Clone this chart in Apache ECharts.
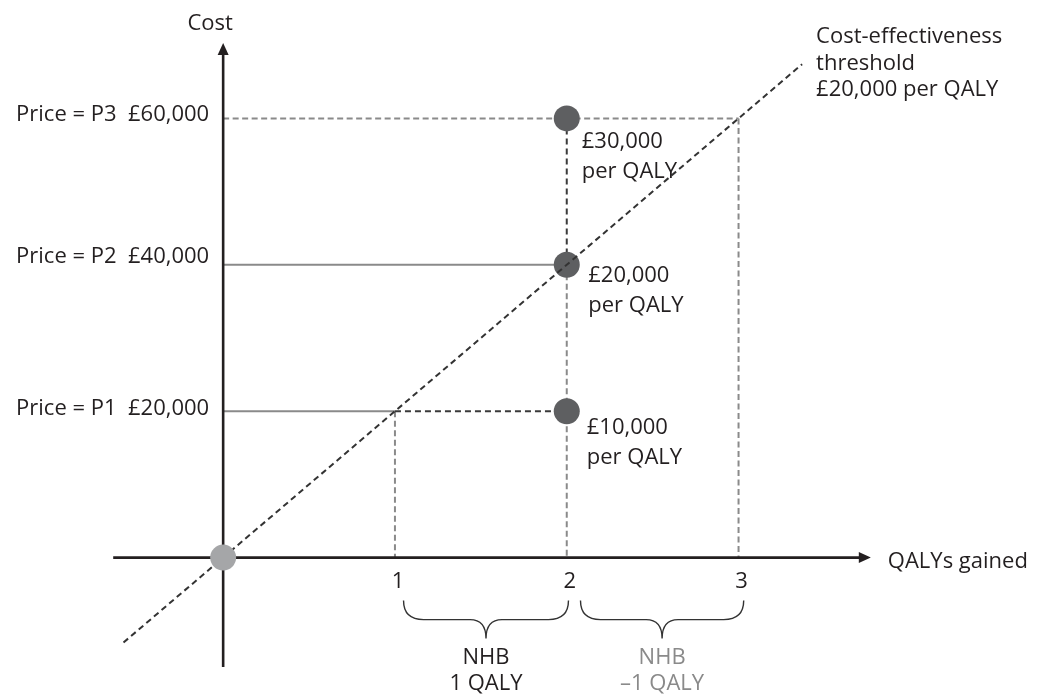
<!DOCTYPE html>
<html><head><meta charset="utf-8">
<script src="https://cdn.jsdelivr.net/npm/echarts@6/dist/echarts.min.js"></script>
<style>html,body{margin:0;padding:0;background:#fff}#chart{width:1038px;height:695px}</style>
</head><body><div id="chart"></div>
<script>
// ---------------- data ----------------
const qalyTicks = [1, 2, 3];
const qalyTickLabels = ['1', '2', '3'];
const prices = [20000, 40000, 60000];
const priceLabels = ['Price = P1  £20,000', 'Price = P2  £40,000', 'Price = P3  £60,000'];
const productQalys = 2;
const icerLabels = ['£10,000\nper QALY', '£20,000\nper QALY', '£30,000\nper QALY'];
const thresholdQalyAtPrice = [1, 2, 3];
const thresholdLabel = 'Cost-effectiveness\nthreshold\n£20,000 per QALY';
const thresholdEnds = [[-0.58, -11600], [3.37, 67400]];
const xAxisEnds = [[-0.64, 0], [3.77, 0]];
const yAxisEnds = [[0, -14950], [0, 70300]];
const axisNames = ['QALYs gained', 'Cost'];
const braceRanges = [[1.05, 2.01], [2.08, 3.03]];
const nhbLabels = ['NHB\n1 QALY', 'NHB\n\u20131 QALY'];

// ---------------- styles ----------------
const INK = '#231f20';
const GREY = '#8a8a8a';
const FONT = '"Open Sans", "Noto Sans", sans-serif';
const FS = 22;

// ---------------- derived geometry ----------------
const greySolid = [
  [0, prices[0], thresholdQalyAtPrice[0], prices[0]],
  [0, prices[1], productQalys, prices[1]]
];
const greyDashed = [
  [0, prices[2], thresholdQalyAtPrice[2], prices[2]],
  [thresholdQalyAtPrice[0], prices[0], thresholdQalyAtPrice[0], 0],
  [productQalys, prices[1], productQalys, 0],
  [thresholdQalyAtPrice[2], prices[2], thresholdQalyAtPrice[2], 0]
];
const darkDashed = [
  [thresholdQalyAtPrice[0], prices[0], productQalys, prices[0]],
  [productQalys, prices[2], productQalys, prices[1]]
];
const thresholdSeg = [[thresholdEnds[0][0], thresholdEnds[0][1], thresholdEnds[1][0], thresholdEnds[1][1]]];
const axesSeg = [
  [xAxisEnds[0][0], xAxisEnds[0][1], xAxisEnds[1][0], xAxisEnds[1][1]],
  [yAxisEnds[0][0], yAxisEnds[0][1], yAxisEnds[1][0], yAxisEnds[1][1]]
];

// text items (content from arrays above; offsets are layout)
const textItems = [];
const priceDy = [-2.5, -8, -3.5];
prices.forEach((p, i) => textItems.push({at: [0, p], text: priceLabels[i], dx: -14, dy: priceDy[i], align: 'right', va: 'middle'}));
const icerDx = [20, 21.5, 15], icerDy = [2, -3.5, 9];
prices.forEach((p, i) => textItems.push({at: [productQalys, p], text: icerLabels[i], dx: icerDx[i], dy: icerDy[i], align: 'left', va: 'top', lh: 29.5}));
textItems.push({at: thresholdEnds[1], text: thresholdLabel, dx: 14, dy: -0.5, align: 'left', va: 'middle', lh: 26.5});
textItems.push({at: yAxisEnds[1], text: axisNames[1], dx: -13, dy: -19, align: 'center', va: 'middle'});
textItems.push({at: xAxisEnds[1], text: axisNames[0], dx: 17, dy: 4.5, align: 'left', va: 'middle'});
qalyTicks.forEach((q, i) => textItems.push({at: [q, 0], text: qalyTickLabels[i], dx: 3, dy: 24, align: 'center', va: 'middle'}));
const nhbColors = [INK, GREY];
braceRanges.forEach((r, i) => textItems.push({at: [(r[0] + r[1]) / 2, 0], text: nhbLabels[i], dx: 0, dy: 86.5, align: 'center', va: 'top', lh: 26.6, color: nhbColors[i]}));

function segSeries(data, style, z) {
  return {
    type: 'custom', coordinateSystem: 'cartesian2d', silent: true, z: z,
    encode: {x: [0, 2], y: [1, 3]}, data: data,
    renderItem: function (params, api) {
      const a = api.coord([api.value(0), api.value(1)]);
      const b = api.coord([api.value(2), api.value(3)]);
      return {type: 'line', shape: {x1: a[0], y1: a[1], x2: b[0], y2: b[1]},
        style: Object.assign({fill: null}, style)};
    }
  };
}

const chart = echarts.init(document.getElementById('chart'), null, {renderer: 'canvas'});
chart.setOption({
  animation: false,
  backgroundColor: '#ffffff',
  grid: {left: 51.35, right: 41.75, top: 1.28, bottom: 20.28},
  xAxis: {type: 'value', min: -1, max: 4.5, show: false},
  yAxis: {type: 'value', min: -16000, max: 76000, show: false},
  series: [
    segSeries(greySolid, {stroke: GREY, lineWidth: 2}, 1),
    segSeries(greyDashed, {stroke: GREY, lineWidth: 2, lineDash: [6, 3.5]}, 1),
    segSeries(darkDashed, {stroke: '#3a3a3a', lineWidth: 2, lineDash: [6, 4]}, 2),
    {
      type: 'custom', coordinateSystem: 'cartesian2d', silent: true, z: 3,
      encode: {x: [0, 2], y: [1, 3]}, data: axesSeg,
      renderItem: function (params, api) {
        const a = api.coord([api.value(0), api.value(1)]);
        const b = api.coord([api.value(2), api.value(3)]);
        const dx = b[0] - a[0], dy = b[1] - a[1], len = Math.hypot(dx, dy);
        const ux = dx / len, uy = dy / len, L = 12, W = 11;
        const bx = b[0] - ux * L, by = b[1] - uy * L;
        return {type: 'group', children: [
          {type: 'line', shape: {x1: a[0], y1: a[1], x2: bx + ux, y2: by + uy}, style: {stroke: INK, lineWidth: 2.6}},
          {type: 'polygon', shape: {points: [[b[0], b[1]], [bx - uy * W / 2, by + ux * W / 2], [bx + uy * W / 2, by - ux * W / 2]]}, style: {fill: INK}}
        ]};
      }
    },
    {
      type: 'scatter', silent: true, z: 4, symbolSize: 26,
      itemStyle: {color: '#5e5f61', opacity: 1},
      data: prices.map(p => [productQalys, p])
    },
    segSeries(thresholdSeg, {stroke: '#333333', lineWidth: 2, lineDash: [6, 4]}, 5),
    {
      type: 'scatter', silent: true, z: 6, symbolSize: 26,
      itemStyle: {color: '#a5a6a8', opacity: 1},
      data: [[0, 0]]
    },
    {
      type: 'custom', coordinateSystem: 'cartesian2d', silent: true, z: 7,
      encode: {x: [0, 1]}, data: braceRanges,
      renderItem: function (params, api) {
        const a = api.coord([api.value(0), 0]);
        const b = api.coord([api.value(1), 0]);
        const y0 = a[1], top = y0 + 43, mid = y0 + 62, tip = y0 + 81, xm = (a[0] + b[0]) / 2;
        const d = 'M' + a[0] + ',' + top + ' Q' + a[0] + ',' + mid + ' ' + (a[0] + 20) + ',' + mid +
          ' L' + (xm - 16) + ',' + mid + ' Q' + xm + ',' + mid + ' ' + xm + ',' + tip +
          ' Q' + xm + ',' + mid + ' ' + (xm + 16) + ',' + mid +
          ' L' + (b[0] - 20) + ',' + mid + ' Q' + b[0] + ',' + mid + ' ' + b[0] + ',' + top;
        return {type: 'path', shape: {pathData: d}, style: {fill: null, stroke: '#333333', lineWidth: 1.4}};
      }
    },
    {
      type: 'custom', coordinateSystem: 'cartesian2d', silent: true, z: 10,
      encode: {x: 0, y: 1}, data: textItems.map(t => [t.at[0], t.at[1]]),
      renderItem: function (params, api) {
        const t = textItems[params.dataIndex];
        const p = api.coord([api.value(0), api.value(1)]);
        const st = {text: t.text, fill: t.color || INK, fontSize: FS, fontFamily: FONT,
          align: t.align, verticalAlign: t.va};
        if (t.lh) st.lineHeight = t.lh;
        return {type: 'text', x: p[0] + t.dx, y: p[1] + t.dy, style: st};
      }
    }
  ]
});
</script>
</body></html>
